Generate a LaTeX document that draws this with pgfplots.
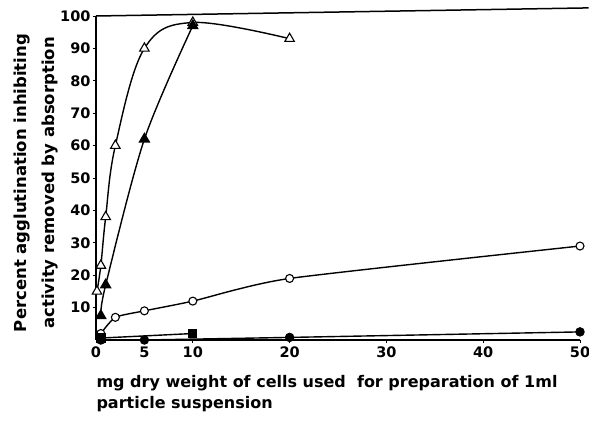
\documentclass[border=0pt]{standalone}
\usepackage{fontspec}
\setmainfont{DejaVu Sans}
\usepackage{pgfplots}
\pgfplotsset{compat=1.18}
\begin{document}
\begin{tikzpicture}
\useasboundingbox (-96pt,-81pt) rectangle (493pt,340pt);
\begin{axis}[
 at={(0,0)}, anchor=south west,
 scale only axis, width=484pt, height=324pt,
 xmin=0, xmax=50, ymin=0, ymax=100,
 axis x line*=bottom, axis y line*=left,
 xtick={0,5,10,20,30,40,50}, ytick={10,20,30,40,50,60,70,80,90,100},
 tick align=outside, major tick length=3pt,
 tick style={line width=0.9pt, black},
 axis line style={line width=1.5pt, -},
 /pgf/number format/assume math mode=true,
 ticklabel style={font=\fontsize{14.5}{16}\selectfont\bfseries},
 yticklabel style={xshift=1pt},
 clip=false,
]
% open triangles
\addplot[black, line width=1.4pt, smooth, tension=0.6, mark=triangle*, mark size=5.5pt,
  mark options={fill=white, line width=1.1pt}]
  coordinates {(0.1,15) (0.5,23) (1,38) (2,60) (5,90) (10,98) (20,93)};
% filled triangles
\addplot[black, line width=1.4pt, smooth, tension=0.5, mark=triangle*, mark size=5.5pt,
  mark options={fill=black}]
  coordinates {(0.5,7.5) (1,17) (5,62) (10,97)};
% open circles
\addplot[black, line width=1.4pt, smooth, tension=0.35, mark=*, mark size=4pt,
  mark options={fill=white, line width=1.1pt}]
  coordinates {(0.5,2) (2,7) (5,9) (10,12) (20,19) (50,29)};
% filled squares
\addplot[black, line width=1.4pt, mark=square*, mark size=4pt, mark options={fill=black}]
  coordinates {(0.5,0.6) (10,2)};
% filled circles
\addplot[black, line width=1.4pt, mark=*, mark size=4pt, mark options={fill=black}]
  coordinates {(0.5,0) (5,0) (20,0.8) (50,2.5)};
\draw[line width=1.5pt] (axis cs:0,100) -- (axis cs:50.9,102.5);
\end{axis}
\node[rotate=90, font=\fontsize{16.5}{18}\selectfont\bfseries] at (-74pt,157pt) {Percent agglutination inhibiting};
\node[rotate=90, font=\fontsize{16.5}{18}\selectfont\bfseries] at (-46pt,157pt) {activity removed by absorption};
\node[anchor=base west, font=\fontsize{16}{18}\selectfont\bfseries] at (-3pt,-47pt) {mg dry weight of cells used\ \ for preparation of 1ml};
\node[anchor=base west, font=\fontsize{16}{18}\selectfont\bfseries] at (-3pt,-68pt) {particle suspension};
\end{tikzpicture}
\end{document}
